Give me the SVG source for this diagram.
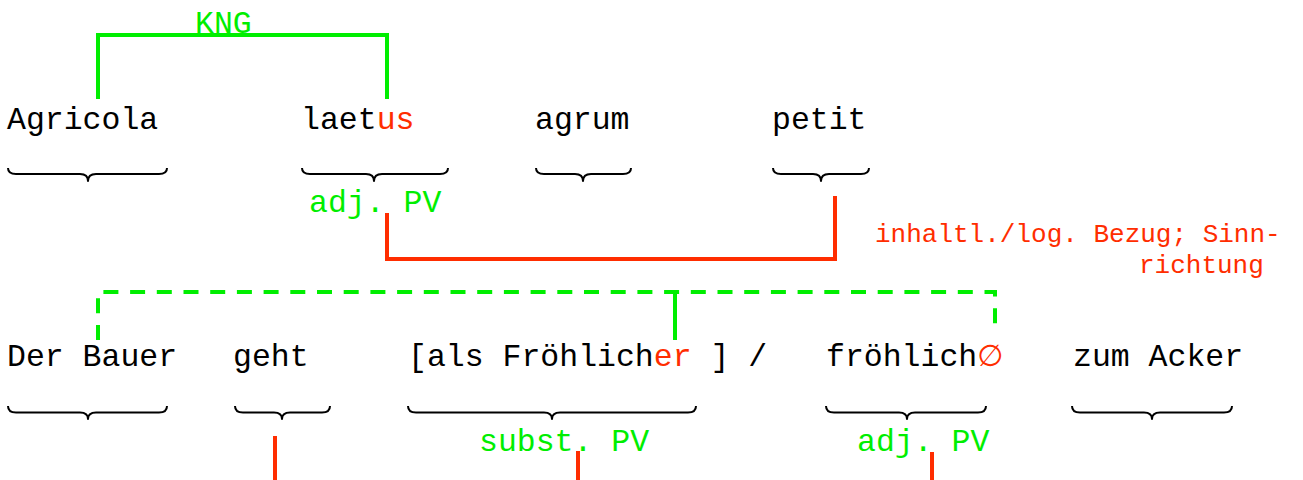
<svg xmlns="http://www.w3.org/2000/svg" width="1303" height="480" viewBox="0 0 1303 480">
  <style>
    .word { font-family: "Liberation Mono", "Courier New", monospace; font-size: 31.5px; fill: #000; }
    .lbl { font-family: "Liberation Mono", "Courier New", monospace; font-size: 31.5px; fill: #00ee00; }
    .note { font-family: "Liberation Mono", "Courier New", monospace; font-size: 26px; fill: #ff2d00; }
    .red { fill: #ff2d00; }
    .empty { font-family: "DejaVu Sans", sans-serif; font-size: 30px; fill: #ff2d00; }
    .brace { fill: none; stroke: #000; stroke-width: 2; stroke-linejoin: round; }
    .g { fill: none; stroke: #00ee00; stroke-width: 4; }
    .gd { fill: none; stroke: #00ee00; stroke-width: 4; stroke-dasharray: 15 11.7; }
    .r { fill: none; stroke: #ff2d00; stroke-width: 4; }
  </style>
  <rect width="1303" height="480" fill="#fff"/>

  <!-- connectors -->
  <g id="connectors">
    <!-- agreement bracket Agricola – laetus -->
    <path class="g" d="M98 99 V35 H387 V99"/>
    <text class="lbl" x="195" y="33">KNG</text>
    <!-- laetus ↔ petit -->
    <path class="r" d="M387 213 V259 H835 V196"/>
    <!-- dashed relation Der Bauer – Fröhlicher – fröhlich∅ -->
    <path class="gd" d="M98 340 V292 H995 V333"/>
    <path class="g" d="M675 292 V340"/>
    <!-- lower red stubs -->
    <path class="r" d="M275 436 V480"/>
    <path class="r" d="M578 451 V480"/>
    <path class="r" d="M932 452 V480"/>
  </g>

  <!-- row 1 -->
  <g id="n-agricola">
    <text class="word" x="7" y="129">Agricola</text>
    <path class="brace" d="M8 168 Q8 174 16 174 H80 Q88 174 88 181 Q88 174 96 174 H159 Q167 174 167 168"/>
  </g>
  <g id="n-laetus">
    <text class="word" x="301" y="129">laet<tspan class="red">us</tspan></text>
    <path class="brace" d="M302 168 Q302 174 310 174 H366 Q374 174 374 181 Q374 174 382 174 H440 Q448 174 448 168"/>
    <text class="lbl" x="309" y="212">adj. PV</text>
  </g>
  <g id="n-agrum">
    <text class="word" x="535" y="129">agrum</text>
    <path class="brace" d="M536 168 Q536 174 544 174 H575 Q583 174 583 181 Q583 174 591 174 H623 Q631 174 631 168"/>
  </g>
  <g id="n-petit">
    <text class="word" x="772" y="129">petit</text>
    <path class="brace" d="M773 168 Q773 174 781 174 H813 Q821 174 821 181 Q821 174 829 174 H861 Q869 174 869 168"/>
  </g>
  <g id="n-note">
    <text class="note" x="875" y="242">inhaltl./log. Bezug; Sinn-</text>
    <text class="note" x="1139" y="273">richtung</text>
  </g>

  <!-- row 2 -->
  <g id="n-bauer">
    <text class="word" x="7" y="366">Der Bauer</text>
    <path class="brace" d="M8 406 Q8 412.5 16 412.5 H80 Q88 412.5 88 419 Q88 412.5 96 412.5 H159 Q167 412.5 167 406"/>
  </g>
  <g id="n-geht">
    <text class="word" x="233" y="366">geht</text>
    <path class="brace" d="M235 406 Q235 412.5 243 412.5 H274 Q282 412.5 282 419 Q282 412.5 290 412.5 H322 Q330 412.5 330 406"/>
  </g>
  <g id="n-froehlicher">
    <text class="word" x="408" y="366">[als Fröhlich<tspan class="red">er</tspan> ] /</text>
    <path class="brace" d="M408 406 Q408 412.5 416 412.5 H544 Q552 412.5 552 419 Q552 412.5 560 412.5 H688 Q696 412.5 696 406"/>
    <text class="lbl" x="479" y="451">subst. PV</text>
  </g>
  <g id="n-froehlich">
    <text class="word" x="826" y="366">fröhlich<tspan class="empty" dy="0">∅</tspan></text>
    <path class="brace" d="M826 406 Q826 412.5 834 412.5 H899 Q907 412.5 907 419 Q907 412.5 915 412.5 H978 Q986 412.5 986 406"/>
    <text class="lbl" x="857" y="451">adj. PV</text>
  </g>
  <g id="n-acker">
    <text class="word" x="1073" y="366">zum Acker</text>
    <path class="brace" d="M1072 406 Q1072 412.5 1080 412.5 H1144 Q1152 412.5 1152 419 Q1152 412.5 1160 412.5 H1224 Q1232 412.5 1232 406"/>
  </g>
</svg>
